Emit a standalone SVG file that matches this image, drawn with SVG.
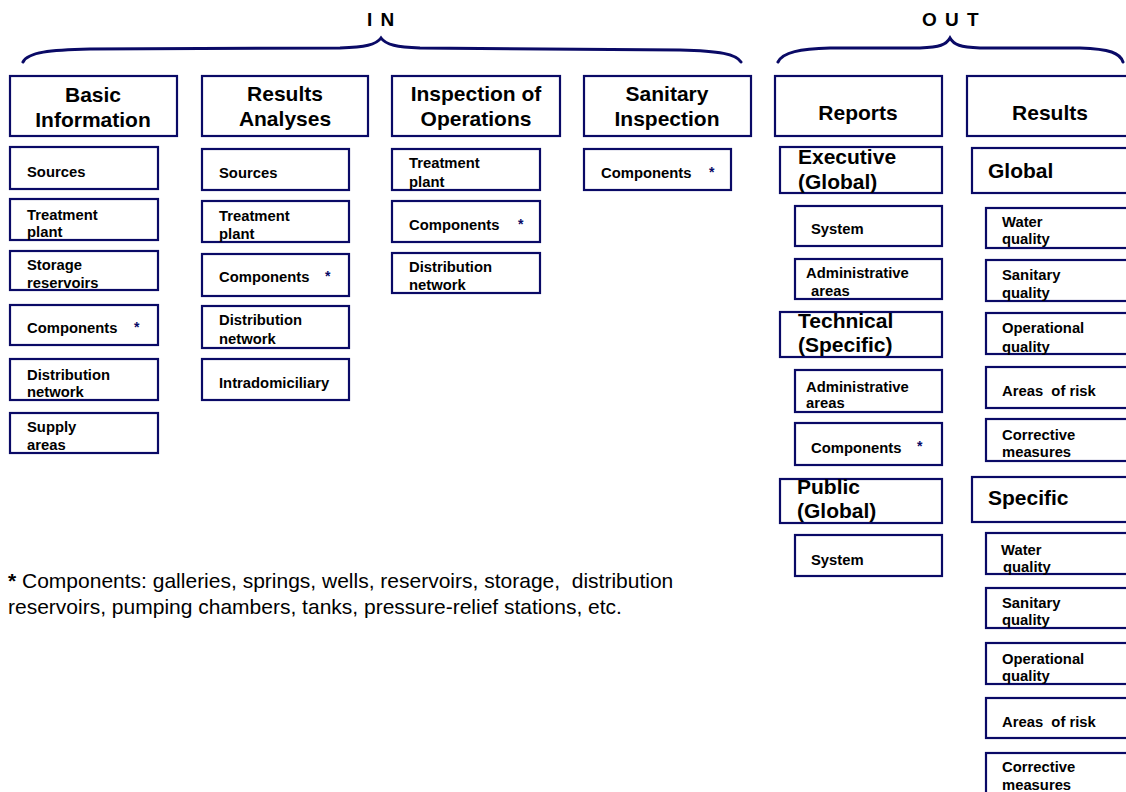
<svg xmlns="http://www.w3.org/2000/svg" width="1126" height="792" viewBox="0 0 1126 792">
<style>
.b{fill:#fff;stroke:#0a0a66;stroke-width:2.2}
.br{fill:none;stroke:#0a0a66;stroke-width:3;stroke-linecap:round}
.h{font-family:"Liberation Sans",Arial,sans-serif;font-weight:bold;font-size:21px;fill:#000}
.s{font-family:"Liberation Sans",Arial,sans-serif;font-weight:bold;font-size:14.8px;fill:#000}
.st{font-family:"Liberation Sans",Arial,sans-serif;font-weight:bold;font-size:14px;fill:#0a0a66}
.t{font-family:"Liberation Sans",Arial,sans-serif;font-weight:bold;font-size:19px;fill:#000;letter-spacing:1.5px}
.f{font-family:"Liberation Sans",Arial,sans-serif;font-size:21px;fill:#000}
</style>
<rect width="1126" height="792" fill="#fff"/>
<g id="connectors">
<path class="br" d="M23,62 C28,52 50,50 90,49 L340,48 C365,47 376,45 381,38 C386,45 397,47 420,48 L680,50 C720,51 736,54 741,62"/>
<path class="br" d="M778,62 C783,52 800,49 830,48 L920,48 C940,47 946,45 950,38 C954,45 960,47 980,48 L1080,48 C1110,49 1120,53 1123,62"/>
</g>
<g id="labels">
<text class="t" x="367" y="26">I N</text>
<text class="t" x="922" y="26">O U T</text>
</g>
<g id="basic-information"><rect class="b" x="10" y="76" width="167" height="60"/><text class="h" x="93" y="102" text-anchor="middle">Basic</text><text class="h" x="93" y="127" text-anchor="middle">Information</text></g>
<g id="results-analyses"><rect class="b" x="202" y="76" width="166" height="60"/><text class="h" x="285" y="101" text-anchor="middle">Results</text><text class="h" x="285" y="126" text-anchor="middle">Analyses</text></g>
<g id="inspection-operations"><rect class="b" x="392" y="76" width="168" height="60"/><text class="h" x="476" y="101" text-anchor="middle">Inspection of</text><text class="h" x="476" y="126" text-anchor="middle">Operations</text></g>
<g id="sanitary-inspection"><rect class="b" x="584" y="76" width="167" height="60"/><text class="h" x="667" y="101" text-anchor="middle">Sanitary</text><text class="h" x="667" y="126" text-anchor="middle">Inspection</text></g>
<g id="reports"><rect class="b" x="775" y="76" width="167" height="60"/><text class="h" x="858" y="120" text-anchor="middle">Reports</text></g>
<g id="results"><rect class="b" x="967" y="76" width="175" height="60"/><text class="h" x="1050" y="120" text-anchor="middle">Results</text></g>

<g id="bi-sources"><rect class="b" x="10" y="147" width="148" height="42"/><text class="s" x="27" y="177">Sources</text></g>
<g id="bi-treatment"><rect class="b" x="10" y="199" width="148" height="41"/><text class="s" x="27" y="220">Treatment</text><text class="s" x="27" y="237">plant</text></g>
<g id="bi-storage"><rect class="b" x="10" y="251" width="148" height="39"/><text class="s" x="27" y="270">Storage</text><text class="s" x="27" y="288">reservoirs</text></g>
<g id="bi-components"><rect class="b" x="10" y="305" width="148" height="40"/><text class="s" x="27" y="333">Components</text><text class="st" x="134" y="332">*</text></g>
<g id="bi-distribution"><rect class="b" x="10" y="359" width="148" height="41"/><text class="s" x="27" y="380">Distribution</text><text class="s" x="27" y="397">network</text></g>
<g id="bi-supply"><rect class="b" x="10" y="413" width="148" height="40"/><text class="s" x="27" y="432">Supply</text><text class="s" x="27" y="450">areas</text></g>

<g id="ra-sources"><rect class="b" x="202" y="149" width="147" height="41"/><text class="s" x="219" y="178">Sources</text></g>
<g id="ra-treatment"><rect class="b" x="202" y="201" width="147" height="41"/><text class="s" x="219" y="221">Treatment</text><text class="s" x="219" y="239">plant</text></g>
<g id="ra-components"><rect class="b" x="202" y="254" width="147" height="42"/><text class="s" x="219" y="282">Components</text><text class="st" x="325" y="281">*</text></g>
<g id="ra-distribution"><rect class="b" x="202" y="306" width="147" height="42"/><text class="s" x="219" y="325">Distribution</text><text class="s" x="219" y="344">network</text></g>
<g id="ra-intradomiciliary"><rect class="b" x="202" y="359" width="147" height="41"/><text class="s" x="219" y="388">Intradomiciliary</text></g>

<g id="io-treatment"><rect class="b" x="392" y="149" width="148" height="41"/><text class="s" x="409" y="168">Treatment</text><text class="s" x="409" y="187">plant</text></g>
<g id="io-components"><rect class="b" x="392" y="201" width="148" height="41"/><text class="s" x="409" y="230">Components</text><text class="st" x="518" y="229">*</text></g>
<g id="io-distribution"><rect class="b" x="392" y="253" width="148" height="40"/><text class="s" x="409" y="272">Distribution</text><text class="s" x="409" y="290">network</text></g>

<g id="si-components"><rect class="b" x="584" y="149" width="147" height="41"/><text class="s" x="601" y="178">Components</text><text class="st" x="709" y="177">*</text></g>

<g id="rep-executive"><rect class="b" x="780" y="147" width="162" height="46"/><text class="h" x="798" y="164">Executive</text><text class="h" x="798" y="189">(Global)</text></g>
<g id="rep-exec-system"><rect class="b" x="795" y="206" width="147" height="40"/><text class="s" x="811" y="234">System</text></g>
<g id="rep-exec-admin"><rect class="b" x="795" y="259" width="147" height="40"/><text class="s" x="806" y="278">Administrative</text><text class="s" x="811" y="296">areas</text></g>
<g id="rep-technical"><rect class="b" x="780" y="312" width="162" height="45"/><text class="h" x="798" y="328">Technical</text><text class="h" x="798" y="352">(Specific)</text></g>
<g id="rep-tech-admin"><rect class="b" x="795" y="370" width="147" height="42"/><text class="s" x="806" y="392">Administrative</text><text class="s" x="806" y="408">areas</text></g>
<g id="rep-tech-components"><rect class="b" x="795" y="423" width="147" height="42"/><text class="s" x="811" y="453">Components</text><text class="st" x="917" y="451">*</text></g>
<g id="rep-public"><rect class="b" x="780" y="479" width="162" height="44"/><text class="h" x="797" y="494">Public</text><text class="h" x="797" y="518">(Global)</text></g>
<g id="rep-public-system"><rect class="b" x="795" y="535" width="147" height="41"/><text class="s" x="811" y="565">System</text></g>

<g id="res-global"><rect class="b" x="972" y="148" width="170" height="45"/><text class="h" x="988" y="178">Global</text></g>
<g id="res-g-water"><rect class="b" x="986" y="208" width="156" height="40"/><text class="s" x="1002" y="227">Water</text><text class="s" x="1002" y="244">quality</text></g>
<g id="res-g-sanitary"><rect class="b" x="986" y="260" width="156" height="41"/><text class="s" x="1002" y="280">Sanitary</text><text class="s" x="1002" y="298">quality</text></g>
<g id="res-g-operational"><rect class="b" x="986" y="313" width="156" height="41"/><text class="s" x="1002" y="333">Operational</text><text class="s" x="1002" y="352">quality</text></g>
<g id="res-g-risk"><rect class="b" x="986" y="367" width="156" height="41"/><text class="s" x="1002" y="396" xml:space="preserve">Areas  of risk</text></g>
<g id="res-g-corrective"><rect class="b" x="986" y="419" width="156" height="42"/><text class="s" x="1002" y="440">Corrective</text><text class="s" x="1002" y="457">measures</text></g>
<g id="res-specific"><rect class="b" x="972" y="477" width="170" height="45"/><text class="h" x="988" y="505">Specific</text></g>
<g id="res-s-water"><rect class="b" x="986" y="533" width="156" height="41"/><text class="s" x="1001" y="555">Water</text><text class="s" x="1003" y="572">quality</text></g>
<g id="res-s-sanitary"><rect class="b" x="986" y="588" width="156" height="40"/><text class="s" x="1002" y="608">Sanitary</text><text class="s" x="1002" y="625">quality</text></g>
<g id="res-s-operational"><rect class="b" x="986" y="643" width="156" height="41"/><text class="s" x="1002" y="664">Operational</text><text class="s" x="1002" y="681">quality</text></g>
<g id="res-s-risk"><rect class="b" x="986" y="698" width="156" height="40"/><text class="s" x="1002" y="727" xml:space="preserve">Areas  of risk</text></g>
<g id="res-s-corrective"><rect class="b" x="986" y="753" width="156" height="60"/><text class="s" x="1002" y="772">Corrective</text><text class="s" x="1002" y="790">measures</text></g>

<g id="footnote">
<text class="f" x="8" y="588" xml:space="preserve"><tspan font-weight="bold">*</tspan> Components: galleries, springs, wells, reservoirs, storage,  distribution</text>
<text class="f" x="8" y="614">reservoirs, pumping chambers, tanks, pressure-relief stations, etc.</text>
</g>
</svg>
